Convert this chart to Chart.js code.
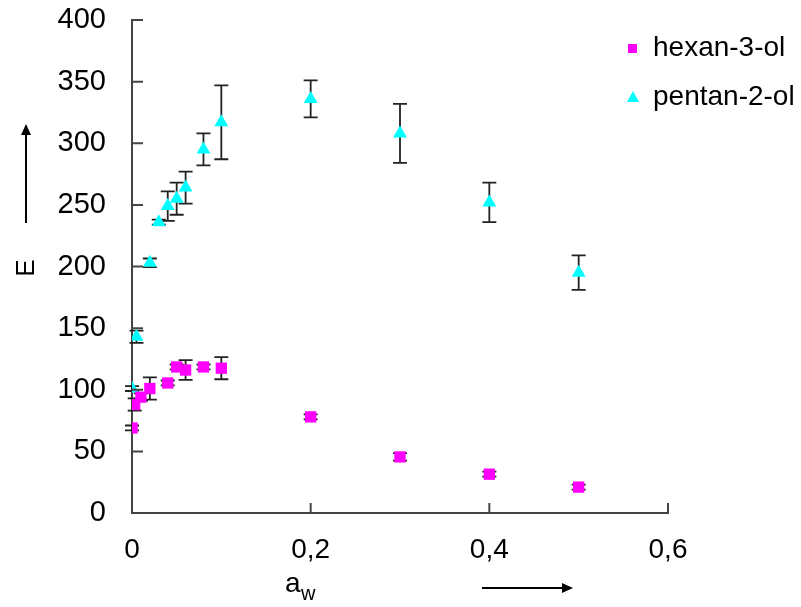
<!DOCTYPE html>
<html>
<head>
<meta charset="utf-8">
<script src="https://cdn.jsdelivr.net/npm/chart.js@4.4.1/dist/chart.umd.min.js"></script>
<style>
  html, body { margin: 0; padding: 0; background: #fff; }
  #wrap { width: 801px; height: 607px; }
</style>
</head>
<body>
<div id="wrap"><canvas id="chart" width="801" height="607"></canvas></div>
<script>
// hexan-3-ol
const hexanX   = [0, 0.003, 0.01, 0.02, 0.04, 0.05, 0.06, 0.08, 0.1, 0.2, 0.3, 0.4, 0.5];
const hexanY   = [69, 88, 94, 101, 105.5, 118.5, 116, 118.5, 117.5, 78, 45.5, 31.5, 21];
const hexanErr = [2, 5, 3, 9, 2, 2, 8, 2, 9, 2, 3, 2, 2];
// pentan-2-ol
const pentanX   = [0, 0.005, 0.02, 0.03, 0.04, 0.05, 0.06, 0.08, 0.1, 0.2, 0.3, 0.4, 0.5];
const pentanY   = [101, 143, 203, 236, 249, 255, 264, 295, 317, 336, 308, 252, 195];
const pentanErr = [2, 5, 3.5, 2, 12, 13, 13, 13, 30, 15, 24, 16, 14];

const xTicks = [0, 0.2, 0.4, 0.6];
const yTicks = [0, 50, 100, 150, 200, 250, 300, 350, 400];

const FONT = '"Liberation Sans", Arial, sans-serif';
const AXIS_COLOR = '#444';

const toPoints = (xs, ys) => xs.map((x, i) => ({ x: x, y: ys[i] }));
const fmtX = v => v === 0 ? '0' : v.toFixed(1).replace('.', ',');

// error bars drawn under the markers
const errorBars = {
    id: 'errorBars',
    beforeDatasetsDraw(chart) {
        const ctx = chart.ctx;
        const yScale = chart.scales.y;
        ctx.save();
        ctx.strokeStyle = '#222';
        ctx.lineWidth = 1.8;
        chart.data.datasets.forEach((ds, di) => {
            const meta = chart.getDatasetMeta(di);
            meta.data.forEach((pt, i) => {
                const v = ds.data[i].y, e = ds.errors[i];
                const top = yScale.getPixelForValue(v + e);
                const bot = yScale.getPixelForValue(v - e);
                ctx.beginPath();
                ctx.moveTo(pt.x, top); ctx.lineTo(pt.x, bot);
                ctx.moveTo(pt.x - 7, top); ctx.lineTo(pt.x + 7, top);
                ctx.moveTo(pt.x - 7, bot); ctx.lineTo(pt.x + 7, bot);
                ctx.stroke();
            });
        });
        ctx.restore();
    }
};

// inward tick marks, axis titles with arrows, legend
const decorations = {
    id: 'decorations',
    afterDraw(chart) {
        const ctx = chart.ctx;
        const { x, y } = chart.scales;
        const area = chart.chartArea;
        ctx.save();
        ctx.strokeStyle = AXIS_COLOR;
        ctx.lineWidth = 2;
        ctx.beginPath();
        xTicks.forEach(t => {
            if (t === 0) return;
            const px = x.getPixelForValue(t);
            ctx.moveTo(px, area.bottom); ctx.lineTo(px, area.bottom - 10);
        });
        yTicks.forEach(t => {
            if (t === 0) return;
            const py = y.getPixelForValue(t);
            ctx.moveTo(area.left, py); ctx.lineTo(area.left + 11, py);
        });
        ctx.stroke();

        // y title "E" + arrow
        ctx.fillStyle = '#000';
        ctx.font = '26px ' + FONT;
        ctx.save();
        ctx.translate(34, 268);
        ctx.rotate(-Math.PI / 2);
        ctx.textAlign = 'center';
        ctx.textBaseline = 'alphabetic';
        ctx.fillText('E', 0, 0);
        ctx.restore();

        ctx.strokeStyle = '#000';
        ctx.lineWidth = 2;
        ctx.beginPath();
        ctx.moveTo(26, 223); ctx.lineTo(26, 132);
        ctx.stroke();
        ctx.beginPath();
        ctx.moveTo(26, 124); ctx.lineTo(21, 135); ctx.lineTo(31, 135); ctx.closePath();
        ctx.fill();

        // x title "a_w" + arrow
        ctx.font = '28px ' + FONT;
        ctx.textBaseline = 'alphabetic';
        ctx.textAlign = 'left';
        ctx.fillText('a', 285, 592);
        ctx.font = '20px ' + FONT;
        ctx.fillText('w', 301, 600);
        ctx.beginPath();
        ctx.moveTo(482, 588); ctx.lineTo(563, 588);
        ctx.stroke();
        ctx.beginPath();
        ctx.moveTo(573, 588); ctx.lineTo(562, 583); ctx.lineTo(562, 593); ctx.closePath();
        ctx.fill();

        // legend
        ctx.font = '28px ' + FONT;
        ctx.textBaseline = 'middle';
        const rows = [48, 97];
        chart.data.datasets.forEach((ds, i) => {
            const cy = rows[i];
            ctx.fillStyle = ds.backgroundColor;
            if (ds.pointStyle === 'rect') {
                ctx.fillRect(628, cy - 4, 9, 9);
            } else {
                ctx.beginPath();
                ctx.moveTo(633, cy - 6); ctx.lineTo(639, cy + 5); ctx.lineTo(627, cy + 5); ctx.closePath();
                ctx.fill();
            }
            ctx.fillStyle = '#000';
            ctx.fillText(ds.label, 653, cy);
        });
        ctx.restore();
    }
};

new Chart(document.getElementById('chart'), {
    type: 'scatter',
    data: {
        datasets: [
            {
                label: 'hexan-3-ol',
                data: toPoints(hexanX, hexanY),
                errors: hexanErr,
                pointStyle: 'rect',
                pointRadius: 8,
                pointHoverRadius: 8,
                backgroundColor: '#ff00ff',
                borderColor: '#ff00ff',
                borderWidth: 0
            },
            {
                label: 'pentan-2-ol',
                data: toPoints(pentanX, pentanY),
                errors: pentanErr,
                pointStyle: 'triangle',
                pointRadius: 8,
                pointHoverRadius: 8,
                backgroundColor: '#00ffff',
                borderColor: '#00ffff',
                borderWidth: 0
            }
        ]
    },
    options: {
        responsive: false,
        animation: false,
        events: [],
        layout: { padding: { top: 20, right: 133, left: 0, bottom: 0 } },
        plugins: { legend: { display: false }, tooltip: { enabled: false } },
        scales: {
            x: {
                type: 'linear',
                min: 0, max: 0.6,
                afterBuildTicks: s => { s.ticks = xTicks.map(v => ({ value: v })); },
                afterFit: s => { s.height = 94; s.paddingLeft = 0; s.paddingRight = 0; },
                grid: { display: false },
                border: { display: true, color: AXIS_COLOR, width: 2 },
                ticks: {
                    color: '#000',
                    padding: 12,
                    maxRotation: 0,
                    font: { family: FONT, size: 28 },
                    callback: v => fmtX(v)
                }
            },
            y: {
                type: 'linear',
                min: 0, max: 400,
                afterBuildTicks: s => { s.ticks = yTicks.map(v => ({ value: v })); },
                afterFit: s => { s.width = 132; s.paddingTop = 0; s.paddingBottom = 0; },
                grid: { display: false },
                border: { display: true, color: AXIS_COLOR, width: 2 },
                ticks: {
                    color: '#000',
                    padding: 18,
                    font: { family: FONT, size: 29 },
                    callback: v => String(v)
                }
            }
        }
    },
    plugins: [errorBars, decorations]
});
</script>
</body>
</html>
